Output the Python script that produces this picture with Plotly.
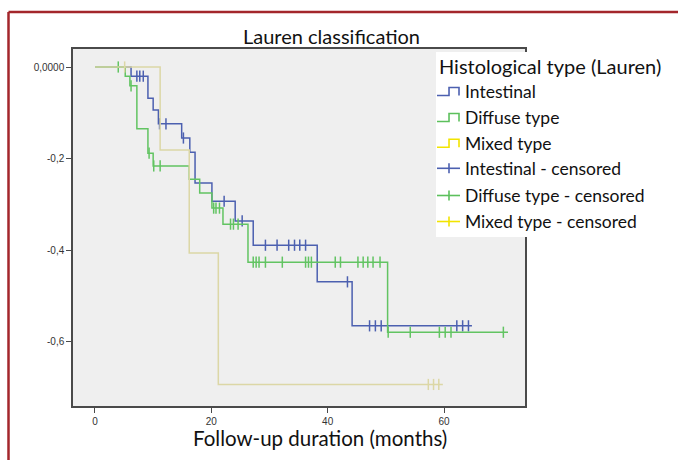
import numpy as np
import plotly.graph_objects as go

# Kaplan-Meier style step curves (time in months, cumulative value)
intestinal_t = [0, 6.2, 9.1, 10.0, 10.9, 14.9, 16.3, 17.2, 20.1, 24.1, 27.2, 38.2, 44.2, 64.8]
intestinal_s = [0, -0.020, -0.068, -0.094, -0.124, -0.155, -0.186, -0.253, -0.293, -0.336, -0.389, -0.469, -0.565, -0.565]
intestinal_cens = [7.2, 7.7, 8.3, 11.1, 12.2, 15.2, 22.2, 25.3, 29.3, 31.3, 33.3, 34.3, 35.2, 36.2,
                   43.4, 47.2, 48.2, 49.2, 62.2, 63.2, 64.2]

diffuse_t = [0, 5.2, 6.0, 7.2, 9.1, 10.0, 16.2, 18.0, 20.1, 22.0, 26.3, 50.3, 71.0]
diffuse_s = [0, -0.020, -0.041, -0.135, -0.188, -0.216, -0.245, -0.275, -0.308, -0.343, -0.426, -0.579, -0.579]
diffuse_cens = [4.0, 6.2, 9.3, 10.1, 11.2, 20.4, 20.8, 21.4, 23.3, 23.8, 24.6, 27.2, 27.7, 28.2, 29.3,
                32.2, 36.2, 36.7, 37.2, 41.3, 42.2, 45.2, 46.1, 46.9, 47.8, 49.0, 50.4, 54.2,
                59.2, 60.2, 61.2, 70.2]

mixed_t = [0, 11.2, 16.2, 21.2, 59.8]
mixed_s = [0, -0.181, -0.406, -0.693, -0.693]
mixed_cens = [5.1, 57.3, 58.2, 59.1]

x_ticks = [0, 20, 40, 60]
y_ticks = [0, -0.2, -0.4, -0.6]
y_ticktext = ["0,0000", "-0,2", "-0,4", "-0,6"]

legend_title = "Histological type (Lauren)"
group_names = ["Intestinal", "Diffuse type", "Mixed type"]

line_colors = ["#4c60b0", "#62c462", "#dcd7a6"]
legend_colors = ["#4c60b0", "#5cc05c", "#f2e400"]


def step_value(times, values, t):
    """Value of a right-continuous step function at time t."""
    idx = np.searchsorted(np.asarray(times), t, side="right") - 1
    return values[max(idx, 0)]


W, H = 678, 460
ML, MR, MT, MB = 73, 153, 49, 54
PW, PH = W - ML - MR, H - MT - MB


def px(x):
    return (x - ML) / PW


def py(y):
    return (H - MB - y) / PH


fig = go.Figure()

curves = [(intestinal_t, intestinal_s, intestinal_cens),
          (diffuse_t, diffuse_s, diffuse_cens),
          (mixed_t, mixed_s, mixed_cens)]

for (t, s, cens), color, name in zip(curves, line_colors, group_names):
    fig.add_trace(go.Scatter(
        x=t, y=s, mode="lines", line=dict(color=color, width=1.5, shape="hv"),
        name=name, showlegend=False, hoverinfo="skip"))
    fig.add_trace(go.Scatter(
        x=cens, y=[step_value(t, s, c) for c in cens], mode="markers",
        marker=dict(symbol="line-ns", size=8, line=dict(color=color, width=1.5)),
        name=name + " - censored", showlegend=False, hoverinfo="skip"))

axis_common = dict(showgrid=False, zeroline=False, showline=True, linecolor="#4a4a4a",
                   linewidth=1.5, mirror=True, ticks="outside", ticklen=5, tickwidth=1.3,
                   tickcolor="#4a4a4a",
                   tickfont=dict(family="Liberation Sans, Arial", size=10, color="#333333"))

fig.update_xaxes(range=[-3.78, 73.92], tickvals=x_ticks, **axis_common)
fig.update_yaxes(range=[-0.740, 0.0393], tickvals=y_ticks, ticktext=y_ticktext, **axis_common)

shapes = []
annotations = []

# Legend panel
shapes.append(dict(type="rect", xref="paper", yref="paper", layer="above",
                   x0=px(436), x1=px(672), y0=py(237), y1=py(52),
                   fillcolor="white", line=dict(width=0)))
annotations.append(dict(text=legend_title, xref="paper", yref="paper", x=px(437), y=py(66),
                        xanchor="left", yanchor="middle", showarrow=False,
                        font=dict(family="Lato", size=20, color="#111111")))

item_y = [91.5, 117.5, 143.3, 168.3, 195.5, 221.5]
labels = group_names + [g + " - censored" for g in group_names]
for i, (yy, lab) in enumerate(zip(item_y, labels)):
    color = legend_colors[i % 3]
    if i < 3:
        path = "M {:.4f},{:.4f} L {:.4f},{:.4f} L {:.4f},{:.4f} L {:.4f},{:.4f} L {:.4f},{:.4f}".format(
            px(437), py(yy + 4), px(449), py(yy + 4), px(449), py(yy - 4),
            px(459), py(yy - 4), px(459), py(yy + 4))
        shapes.append(dict(type="path", xref="paper", yref="paper", layer="above", path=path,
                           line=dict(color=color, width=1.6)))
    else:
        shapes.append(dict(type="line", xref="paper", yref="paper", layer="above",
                           x0=px(437), x1=px(460), y0=py(yy), y1=py(yy),
                           line=dict(color=color, width=1.6)))
        shapes.append(dict(type="line", xref="paper", yref="paper", layer="above",
                           x0=px(449), x1=px(449), y0=py(yy - 5), y1=py(yy + 5),
                           line=dict(color=color, width=1.6)))
    annotations.append(dict(text=lab, xref="paper", yref="paper", x=px(463), y=py(yy),
                            xanchor="left", yanchor="middle", showarrow=False,
                            font=dict(family="Lato", size=17.5, color="#111111")))

# Titles
annotations.append(dict(text="Lauren classification", xref="paper", yref="paper",
                        x=px(331), y=py(36), xanchor="center", yanchor="middle",
                        showarrow=False, font=dict(family="Lato", size=20, color="#111111")))
annotations.append(dict(text="Follow-up duration (months)", xref="paper", yref="paper",
                        x=px(320), y=py(438), xanchor="center", yanchor="middle",
                        showarrow=False, font=dict(family="Lato", size=20.5, color="#111111")))

# Page frame
border = "#a3262b"
shapes.append(dict(type="line", xref="paper", yref="paper", x0=px(8.5), x1=px(8.5),
                   y0=py(12), y1=py(470), line=dict(color=border, width=2.5)))
shapes.append(dict(type="line", xref="paper", yref="paper", x0=px(8.5), x1=px(690),
                   y0=py(12), y1=py(12), line=dict(color=border, width=2.5)))

fig.update_layout(width=W, height=H, autosize=False,
                  margin=dict(l=ML, r=MR, t=MT, b=MB, pad=0),
                  paper_bgcolor="white", plot_bgcolor="#efefef",
                  showlegend=False, shapes=shapes, annotations=annotations)

fig.write_html("out.html")
